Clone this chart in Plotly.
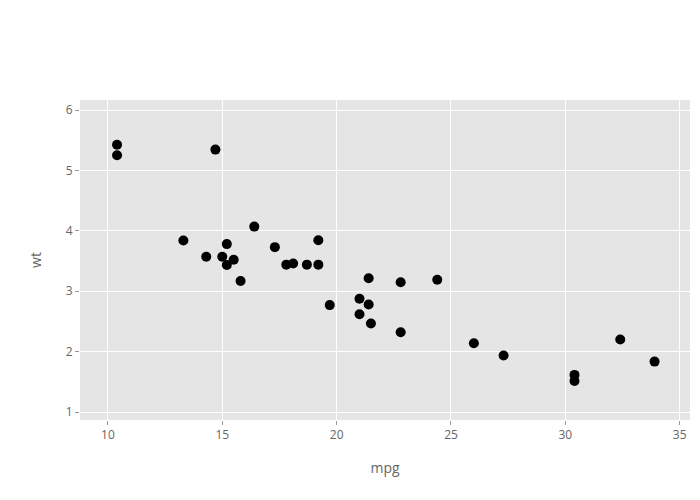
import plotly.graph_objects as go

mpg = [21.0, 21.0, 22.8, 21.4, 18.7, 18.1, 14.3, 24.4, 22.8, 19.2, 17.8, 16.4, 17.3, 15.2,
       10.4, 10.4, 14.7, 32.4, 30.4, 33.9, 21.5, 15.5, 15.2, 13.3, 19.2, 27.3, 26.0, 30.4,
       15.8, 19.7, 15.0, 21.4]
wt = [2.620, 2.875, 2.320, 3.215, 3.440, 3.460, 3.570, 3.190, 3.150, 3.440, 3.440, 4.070,
      3.730, 3.780, 5.250, 5.424, 5.345, 2.200, 1.615, 1.835, 2.465, 3.520, 3.435, 3.840,
      3.845, 1.935, 2.140, 1.513, 3.170, 2.770, 3.570, 2.780]

fig = go.Figure(go.Scatter(
    x=mpg, y=wt, mode="markers",
    marker=dict(color="black", size=10),
))

axis_common = dict(
    showgrid=True, gridcolor="white", gridwidth=1,
    zeroline=False, ticks="outside", ticklen=4, tickcolor="#999999",
    tickfont=dict(size=12, color="#666666"), showline=False,
)
fig.update_layout(
    width=692, height=492,
    margin=dict(l=72, r=10, t=92, b=80),
    paper_bgcolor="white", plot_bgcolor="#E5E5E5",
    font=dict(family="Open Sans, verdana, arial, sans-serif", color="#444444"),
    showlegend=False,
    xaxis=dict(title=dict(text="mpg", font=dict(size=14, color="#666666"), standoff=20),
               range=[8.78, 35.45], tickvals=[10, 15, 20, 25, 30, 35], **axis_common),
    yaxis=dict(title=dict(text="wt", font=dict(size=14, color="#666666"), standoff=20),
               range=[0.868, 6.166], tickvals=[1, 2, 3, 4, 5, 6], **axis_common),
)
fig.write_html("out.html")
